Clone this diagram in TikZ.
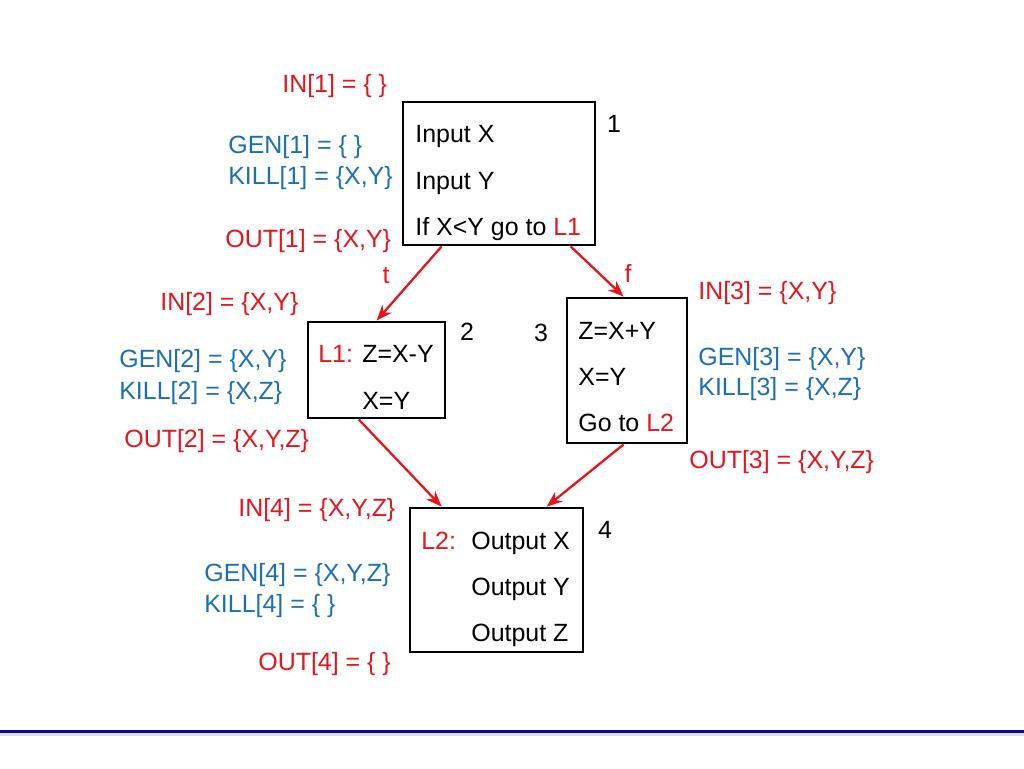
\documentclass[tikz,border=0pt]{standalone}
\usepackage{fontspec}
\setmainfont{Liberation Sans}
\usetikzlibrary{arrows.meta, calc}
\definecolor{dfred}{HTML}{E8141C}
\definecolor{dfblue}{HTML}{1A6FB5}
\definecolor{dfnavy}{HTML}{0A0A96}
\newcommand{\dffont}{\fontsize{14.2}{17}\selectfont}
\tikzset{
  block/.style={draw, line width=1.6pt, inner sep=0pt},
  stmt/.style={anchor=base west, inner sep=0pt, font=\dffont},
  setred/.style={stmt, text=dfred},
  setblue/.style={stmt, text=dfblue},
  blocknum/.style={inner sep=0pt, font=\dffont},
  flow/.style={dfred, line width=1.3pt, -{Stealth[length=9pt, width=7pt]}}
}

\begin{document}
\begin{tikzpicture}[x=0.02cm, y=-0.02cm]
  \useasboundingbox (0,0) rectangle (1024,768);

  % Basic blocks (pixel grid, y downwards)
  \node[block, minimum width=3.84cm, minimum height=2.86cm] (b1) at (499,173.5) {};
  \node[block, minimum width=2.74cm, minimum height=1.92cm] (b2) at (376.5,370) {};
  \node[block, minimum width=2.40cm, minimum height=2.90cm] (b3) at (627,370.5) {};
  \node[block, minimum width=3.46cm, minimum height=2.88cm] (b4) at (496.5,580) {};

  % Statements in the blocks
  \node[stmt] (b1a) at (415,142) {Input X};
  \node[stmt] (b1b) at (415,189) {Input Y};
  \node[stmt] (b1c) at (415,235) {If X<Y go to \textcolor{dfred}{L1}};

  \node[stmt] (b2a) at (318,362) {\textcolor{dfred}{L1:} Z=X-Y};
  \node[stmt] (b2b) at (362,409) {X=Y};

  \node[stmt] (b3a) at (578,339) {Z=X+Y};
  \node[stmt] (b3b) at (578,385) {X=Y};
  \node[stmt] (b3c) at (578,431) {Go to \textcolor{dfred}{L2}};

  \node[setred] (b4l) at (421,549) {L2:};
  \node[stmt] (b4a) at (471,549) {Output X};
  \node[stmt] (b4b) at (471,595) {Output Y};
  \node[stmt] (b4c) at (471,641) {Output Z};

  % Block numbers
  \node[blocknum] (n1) at (614,124) {1};
  \node[blocknum] (n2) at (467,332) {2};
  \node[blocknum] (n3) at (541,333) {3};
  \node[blocknum] (n4) at (605,530) {4};

  % Flow edges
  \draw[flow] ($(b1.south west)+(40,0)$) -- ($(b2.north west)+(70,0)$);
  \draw[flow] ($(b1.south west)+(169,0)$) -- ($(b3.north west)+(58,0)$);
  \draw[flow] ($(b2.south west)+(52,0)$) -- ($(b4.north west)+(33,0)$);
  \draw[flow] ($(b3.south west)+(58,0)$) -- ($(b4.north west)+(138,0)$);
  \node[blocknum, text=dfred] (et) at (386,276) {t};
  \node[blocknum, text=dfred] (ef) at (628,273) {f};

  % Block 1 sets
  \node[setred] (in1) at (282,92) {IN[1] = \{~\}};
  \node[setblue] (gen1) at (228,153) {GEN[1] = \{~\}};
  \node[setblue] (kill1) at (228,184) {KILL[1] = \{X,Y\}};
  \node[setred] (out1) at (225,247) {OUT[1] = \{X,Y\}};

  % Block 2 sets
  \node[setred] (in2) at (160,310) {IN[2] = \{X,Y\}};
  \node[setblue] (gen2) at (119,367) {GEN[2] = \{X,Y\}};
  \node[setblue] (kill2) at (119,399) {KILL[2] = \{X,Z\}};
  \node[setred] (out2) at (124,447) {OUT[2] = \{X,Y,Z\}};

  % Block 3 sets
  \node[setred] (in3) at (698,299) {IN[3] = \{X,Y\}};
  \node[setblue] (gen3) at (698,365) {GEN[3] = \{X,Y\}};
  \node[setblue] (kill3) at (698,395) {KILL[3] = \{X,Z\}};
  \node[setred] (out3) at (689,468) {OUT[3] = \{X,Y,Z\}};

  % Block 4 sets
  \node[setred] (in4) at (238,516) {IN[4] = \{X,Y,Z\}};
  \node[setblue] (gen4) at (204,581) {GEN[4] = \{X,Y,Z\}};
  \node[setblue] (kill4) at (204,612) {KILL[4] = \{~\}};
  \node[setred] (out4) at (258,670) {OUT[4] = \{~\}};

  % Slide rule
  \draw[gray!25, line width=1.5pt] (0,734.5) -- (1024,734.5);
  \draw[dfnavy, line width=1.7pt] (0,731) -- (1024,731);
\end{tikzpicture}
\end{document}
